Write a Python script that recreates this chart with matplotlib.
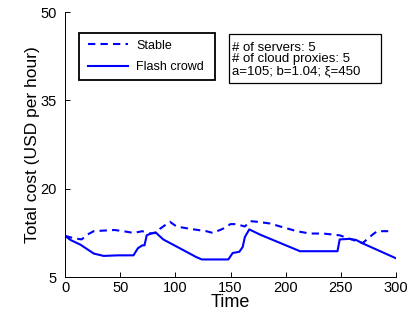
import matplotlib
matplotlib.use("Agg")
import matplotlib.pyplot as plt
from matplotlib.patches import Rectangle

plt.rcParams['font.family'] = ['Liberation Sans', 'DejaVu Sans']

stable_t = [0, 8, 15, 20, 26, 35, 45, 56, 62, 70, 76, 82, 86, 95, 101, 113, 128, 134, 143, 150,
            155, 163, 168, 174, 186, 195, 210, 222, 234, 249, 258, 270, 278, 283, 293]
stable_v = [12.0, 11.6, 11.4, 12.2, 12.8, 12.9, 13.0, 12.7, 12.5, 12.8, 12.4, 12.5, 13.2, 14.4, 13.6,
            13.2, 12.8, 12.5, 13.2, 14.0, 14.0, 13.6, 14.5, 14.4, 14.1, 13.6, 12.8, 12.4, 12.4, 12.1,
            11.5, 10.8, 12.1, 12.8, 12.8]

flash_t = [0, 5, 14, 26, 35, 48, 62, 66, 70, 72, 74, 78, 82, 89, 100, 119, 124, 148, 152, 158,
           161, 163, 167, 177, 195, 213, 247, 249, 258, 264, 269, 300]
flash_v = [12.0, 11.3, 10.5, 9.0, 8.6, 8.7, 8.7, 9.9, 10.4, 10.4, 12.1, 12.4, 12.6, 11.4, 10.3, 8.4,
           8.0, 8.0, 9.1, 9.3, 10.1, 11.8, 13.1, 12.2, 10.8, 9.4, 9.4, 11.4, 11.5, 11.3, 10.8, 8.2]

xticks = [0, 50, 100, 150, 200, 250, 300]
yticks = [5, 20, 35, 50]
info_text = '# of servers: 5\n# of cloud proxies: 5\na=105; b=1.04; ξ=450'

fig = plt.figure(figsize=(4.12, 3.16), dpi=100)
ax = fig.add_axes([0.158, 0.123, 0.803, 0.839])
blue = (0, 0, 1)
l1, = ax.plot(stable_t, stable_v, color=blue, lw=1.5, dashes=(3.5, 2.5), label='Stable')
l2, = ax.plot(flash_t, flash_v, color=blue, lw=1.5, label='Flash crowd')

ax.set_xlim(0, 300)
ax.set_ylim(5, 50)
ax.set_xticks(xticks)
ax.set_yticks(yticks)
ax.spines['top'].set_visible(False)
ax.spines['right'].set_visible(False)
ax.tick_params(direction='in', length=3.5, labelsize=10.5, width=0.7)
ax.tick_params(axis='y', pad=6)
ax.tick_params(axis='x', pad=3)
for s in ax.spines.values():
    s.set_linewidth(0.7)
ax.set_xlabel('Time', fontsize=13, labelpad=-1)
ax.set_ylabel('Total cost (USD per hour)', fontsize=12.5, labelpad=0.5)

# legend box
ax.add_patch(Rectangle((0.042, 0.743), 0.411, 0.178, transform=ax.transAxes,
                       fill=True, fc='white', ec='black', lw=1.3, zorder=4))
leg = ax.legend(handles=[l1, l2], loc='center left', bbox_to_anchor=(0.042, 0.832),
                fontsize=9, frameon=False, handlelength=3.2,
                borderpad=0.3, labelspacing=0.75, handletextpad=0.7, borderaxespad=0.4)
leg.set_zorder(5)

# info box
ax.add_patch(Rectangle((0.495, 0.732), 0.46, 0.185, transform=ax.transAxes,
                       fill=True, fc='white', ec='black', lw=0.9, zorder=4))
ax.text(0.506, 0.888, info_text, transform=ax.transAxes, fontsize=9.5,
        va='top', ha='left', linespacing=0.97, zorder=5)

fig.savefig('out.png', dpi=100)
